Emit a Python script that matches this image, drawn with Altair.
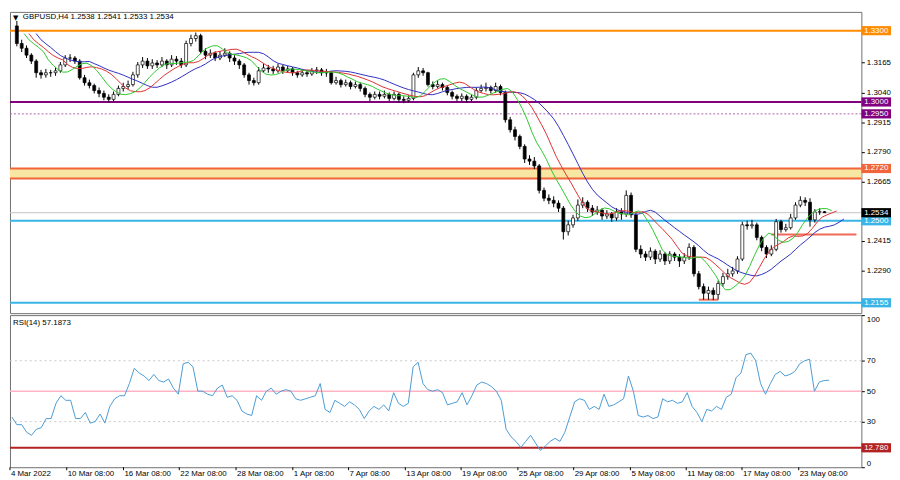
import altair as alt
import pandas as pd

# ---------------- data ----------------
symbol_title = "GBPUSD,H4"
first_open = 1.3320
closes = [
1.3246, 1.3226, 1.3197, 1.3172, 1.3123, 1.3114, 1.3123, 1.3123, 1.3131, 1.3156,
1.3185, 1.3185, 1.3172, 1.3102, 1.3081, 1.3069, 1.3048, 1.3036, 1.3020, 1.3011,
1.3032, 1.3057, 1.3065, 1.3073, 1.3114, 1.3156, 1.3172, 1.3152, 1.3164, 1.3156,
1.3172, 1.3156, 1.3180, 1.3172, 1.3156, 1.3246, 1.3267, 1.3279, 1.3213, 1.3197,
1.3205, 1.3185, 1.3197, 1.3205, 1.3185, 1.3172, 1.3156, 1.3114, 1.3090, 1.3081,
1.3131, 1.3143, 1.3139, 1.3131, 1.3147, 1.3131, 1.3139, 1.3123, 1.3114, 1.3123,
1.3118, 1.3131, 1.3135, 1.3123, 1.3123, 1.3081, 1.3090, 1.3073, 1.3081, 1.3065,
1.3073, 1.3057, 1.3032, 1.3020, 1.3032, 1.3024, 1.3032, 1.3015, 1.3032, 1.3011,
1.3007, 1.3015, 1.3114, 1.3131, 1.3123, 1.3073, 1.3065, 1.3073, 1.3061, 1.3040,
1.3024, 1.3015, 1.3024, 1.3011, 1.3020, 1.3048, 1.3057, 1.3061, 1.3048, 1.3065,
1.3040, 1.2925, 1.2883, 1.2855, 1.2813, 1.2760, 1.2751, 1.2731, 1.2628, 1.2595,
1.2586, 1.2574, 1.2553, 1.2454, 1.2483, 1.2512, 1.2566, 1.2578, 1.2553, 1.2537,
1.2545, 1.2520, 1.2529, 1.2512, 1.2537, 1.2529, 1.2607, 1.2525, 1.2380, 1.2360,
1.2347, 1.2372, 1.2339, 1.2360, 1.2331, 1.2360, 1.2347, 1.2331, 1.2347, 1.2388,
1.2277, 1.2223, 1.2195, 1.2207, 1.2190, 1.2236, 1.2265, 1.2277, 1.2289, 1.2339,
1.2483, 1.2479, 1.2483, 1.2430, 1.2388, 1.2360, 1.2380, 1.2496, 1.2463, 1.2471,
1.2512, 1.2566, 1.2586, 1.2578, 1.2504, 1.2537, 1.2538, 1.2534]
highs = [
1.3341, 1.3262, 1.3238, 1.3205, 1.3180, 1.3135, 1.3139, 1.3135, 1.3147, 1.3168,
1.3197, 1.3201, 1.3193, 1.3180, 1.3114, 1.3094, 1.3077, 1.3061, 1.3048, 1.3032,
1.3044, 1.3069, 1.3081, 1.3090, 1.3127, 1.3168, 1.3189, 1.3185, 1.3180, 1.3176,
1.3189, 1.3180, 1.3197, 1.3193, 1.3185, 1.3258, 1.3283, 1.3292, 1.3287, 1.3226,
1.3221, 1.3213, 1.3213, 1.3226, 1.3213, 1.3197, 1.3180, 1.3164, 1.3123, 1.3102,
1.3147, 1.3160, 1.3156, 1.3152, 1.3160, 1.3156, 1.3152, 1.3147, 1.3131, 1.3139,
1.3135, 1.3143, 1.3147, 1.3143, 1.3139, 1.3131, 1.3106, 1.3098, 1.3094, 1.3090,
1.3086, 1.3081, 1.3065, 1.3040, 1.3044, 1.3044, 1.3048, 1.3040, 1.3044, 1.3040,
1.3024, 1.3028, 1.3123, 1.3147, 1.3143, 1.3127, 1.3086, 1.3090, 1.3081, 1.3069,
1.3048, 1.3032, 1.3036, 1.3032, 1.3032, 1.3061, 1.3073, 1.3081, 1.3069, 1.3081,
1.3073, 1.3048, 1.2937, 1.2896, 1.2863, 1.2822, 1.2776, 1.2768, 1.2739, 1.2640,
1.2611, 1.2603, 1.2586, 1.2562, 1.2500, 1.2525, 1.2590, 1.2599, 1.2586, 1.2566,
1.2562, 1.2553, 1.2545, 1.2537, 1.2553, 1.2553, 1.2628, 1.2619, 1.2533, 1.2397,
1.2372, 1.2388, 1.2380, 1.2376, 1.2368, 1.2372, 1.2368, 1.2360, 1.2364, 1.2405,
1.2397, 1.2289, 1.2236, 1.2223, 1.2219, 1.2248, 1.2281, 1.2298, 1.2306, 1.2351,
1.2496, 1.2500, 1.2504, 1.2492, 1.2438, 1.2397, 1.2397, 1.2508, 1.2504, 1.2487,
1.2529, 1.2578, 1.2603, 1.2599, 1.2595, 1.2549, 1.2553, 1.2541]
lows = [
1.3234, 1.3210, 1.3185, 1.3160, 1.3102, 1.3098, 1.3102, 1.3106, 1.3110, 1.3123,
1.3147, 1.3168, 1.3160, 1.3094, 1.3069, 1.3057, 1.3036, 1.3020, 1.3007, 1.2999,
1.3003, 1.3024, 1.3044, 1.3053, 1.3065, 1.3102, 1.3143, 1.3139, 1.3139, 1.3143,
1.3147, 1.3139, 1.3147, 1.3156, 1.3143, 1.3147, 1.3234, 1.3254, 1.3201, 1.3180,
1.3185, 1.3172, 1.3176, 1.3189, 1.3168, 1.3156, 1.3139, 1.3102, 1.3073, 1.3069,
1.3073, 1.3123, 1.3123, 1.3118, 1.3123, 1.3118, 1.3123, 1.3110, 1.3102, 1.3106,
1.3106, 1.3110, 1.3118, 1.3110, 1.3106, 1.3073, 1.3073, 1.3061, 1.3065, 1.3053,
1.3057, 1.3044, 1.3020, 1.3003, 1.3011, 1.3011, 1.3015, 1.3003, 1.3007, 1.2999,
1.2995, 1.2999, 1.3007, 1.3102, 1.3110, 1.3065, 1.3053, 1.3057, 1.3048, 1.3028,
1.3011, 1.3003, 1.3003, 1.2999, 1.3003, 1.3011, 1.3040, 1.3044, 1.3036, 1.3040,
1.3028, 1.2913, 1.2871, 1.2838, 1.2801, 1.2743, 1.2735, 1.2718, 1.2615, 1.2582,
1.2570, 1.2557, 1.2537, 1.2421, 1.2438, 1.2471, 1.2500, 1.2553, 1.2537, 1.2520,
1.2525, 1.2504, 1.2508, 1.2496, 1.2500, 1.2504, 1.2516, 1.2512, 1.2368, 1.2343,
1.2331, 1.2335, 1.2318, 1.2327, 1.2314, 1.2318, 1.2331, 1.2306, 1.2318, 1.2335,
1.2265, 1.2211, 1.2168, 1.2168, 1.2166, 1.2168, 1.2223, 1.2252, 1.2265, 1.2277,
1.2331, 1.2463, 1.2467, 1.2418, 1.2372, 1.2343, 1.2351, 1.2372, 1.2450, 1.2454,
1.2463, 1.2504, 1.2557, 1.2562, 1.2475, 1.2492, 1.2525, 1.2533]
rsi = [
33, 28, 28, 23, 21, 25, 26, 32, 32, 42,
47, 44, 44, 32, 32, 36, 29, 30, 35, 29,
40, 45, 47, 47, 55, 65, 62, 60, 57, 61,
57, 56, 58, 52, 48, 68, 69, 66, 50, 50,
48, 47, 52, 54, 46, 47, 44, 37, 35, 34,
47, 44, 50, 52, 48, 50, 51, 50, 45, 44,
45, 46, 47, 55, 38, 36, 44, 42, 40, 43,
41, 38, 32, 37, 40, 38, 41, 37, 49, 42,
40, 42, 66, 69, 55, 51, 50, 51, 49, 41,
42, 43, 49, 41, 47, 54, 56, 55, 53, 50,
44, 25, 20, 17, 13, 17, 21, 16, 11, 14,
17, 19, 17, 23, 33, 43, 45, 44, 38, 40,
38, 48, 40, 41, 43, 45, 60, 50, 34, 33,
34, 32, 33, 45, 43, 44, 42, 43, 49, 40,
36, 30, 38, 37, 40, 38, 46, 48, 59, 62,
74, 75, 70, 55, 48, 55, 61, 63, 60, 61,
63, 68, 70, 71, 50, 56, 57, 57.1873]

# time axis labels (bar number where each label sits)
tick_bars = [-0.4, 11.2, 22.8, 34.2, 45.8, 57.4, 68.8, 80.4, 91.8, 103.4, 114.8, 126.4, 137.8, 149.2, 160.8]
tick_labels = ["4 Mar 2022", "10 Mar 08:00", "16 Mar 08:00", "22 Mar 08:00", "28 Mar 08:00",
               "1 Apr 08:00", "7 Apr 08:00", "13 Apr 08:00", "19 Apr 08:00", "25 Apr 08:00",
               "29 Apr 08:00", "5 May 08:00", "11 May 08:00", "17 May 08:00", "23 May 08:00"]

# horizontal levels
level_prices = [1.3300, 1.3000, 1.2720, 1.2678, 1.2500, 1.2155]
level_names = ["L1.3300", "L1.3000", "L1.2720", "L1.2678", "L1.2500", "L1.2155"]
level_colors = ["#FF8C00", "#800080", "#F0653A", "#F0653A", "#38B4E6", "#38B4E6"]
band_top, band_bottom = 1.2720, 1.2678
dotted_level = 1.2950
seg_prices = [1.2442, 1.2168]
seg_from = [156, 141]
seg_to = [173.6, 145]
tag_prices = [1.3300, 1.3000, 1.2950, 1.2720, 1.2500, 1.2534, 1.2155]
tag_names = ["T1.3300", "T1.3000", "T1.2950", "T1.2720", "T1.2500", "T1.2534", "T1.2155"]
tag_colors = ["#FF8C00", "#800080", "#800080", "#F0653A", "#38B4E6", "#000000", "#38B4E6"]
rsi_levels_dotted = [70, 30]
rsi_mid = 50
rsi_low_level = 12.78

# ---------------- chart ----------------
n = len(closes)
opens = [first_open] + closes[:-1]
df = pd.DataFrame({"i": list(range(n)), "open": opens, "high": highs, "low": lows,
                   "close": closes, "rsi": rsi})

W, HP, HR = 862, 305, 154
FONT = "Liberation Sans"
xscale = alt.Scale(domain=[-0.4, 173.6], nice=False, zero=False)
pscale = alt.Scale(domain=[1.21113, 1.33790], nice=False, zero=False)
rscale = alt.Scale(domain=[0, 100], nice=False, zero=False)

axis_common = dict(orient="right", title=None, grid=False, domain=False, tickSize=3,
                   tickColor="#000000", labelFont=FONT, labelFontSize=8,
                   labelColor="#000000", labelPadding=2)
price_axis = alt.Axis(values=[1.3165, 1.3040, 1.2915, 1.2790, 1.2665, 1.2415, 1.2290],
                      format=".4f", **axis_common)
rsi_axis = alt.Axis(values=[100, 70, 50, 30, 0], format="d", labelFlush=True, **axis_common)


def X(f):
    return alt.X(f, type="quantitative", scale=xscale, axis=None, title=None)


def YP(f):
    return alt.Y(f, type="quantitative", scale=pscale, axis=price_axis, title=None)


def YR(f):
    return alt.Y(f, type="quantitative", scale=rscale, axis=rsi_axis, title=None)


box_path = "M-1,-0.31L1,-0.31L1,0.31L-1,0.31Z"

band = alt.Chart(pd.DataFrame({"top": [band_top], "bot": [band_bottom]})).mark_rect(
    color="#F8E7A2").encode(x=alt.value(0), x2=alt.value(W), y=YP("top"), y2=alt.Y2("bot"))

lv = alt.Chart(pd.DataFrame({"lvl": level_prices, "name": level_names})).mark_rule(
    strokeWidth=2).encode(
    x=alt.value(0), x2=alt.value(W), y=YP("lvl"),
    stroke=alt.Stroke("name:N", scale=alt.Scale(domain=level_names, range=level_colors),
                      legend=None))

dotted = alt.Chart(pd.DataFrame({"lvl": [dotted_level]})).mark_rule(
    strokeDash=[2, 2], color="#B060B0", strokeWidth=1).encode(
    x=alt.value(0), x2=alt.value(W), y=YP("lvl"))

cur = alt.Chart(pd.DataFrame({"lvl": [closes[-1]]})).mark_rule(
    color="#C4C4C4", strokeWidth=1).encode(x=alt.value(0), x2=alt.value(W), y=YP("lvl"))

segs = alt.Chart(pd.DataFrame({"y": seg_prices, "a": seg_from, "b": seg_to})).mark_rule(
    color="#F06A5A", strokeWidth=2).encode(x=X("a"), x2=alt.X2("b"), y=YP("y"))

wicks = alt.Chart(df).mark_rule(color="#000000", strokeWidth=1).encode(
    x=X("i"), y=YP("low"), y2=alt.Y2("high"))

bodies = alt.Chart(df).mark_bar(width=3, stroke="#000000", strokeWidth=0.7).encode(
    x=X("i"), y=YP("open"), y2=alt.Y2("close"),
    fill=alt.condition("datum.close >= datum.open", alt.value("#ffffff"), alt.value("#000000")))


def alligator(win, shift, color):
    return alt.Chart(df).transform_calculate(
        med="(datum.high + datum.low) / 2"
    ).transform_window(
        ma="mean(med)", frame=[-(win - 1), 0], sort=[alt.SortField("i")]
    ).transform_calculate(
        xs=f"datum.i + {shift}"
    ).mark_line(color=color, strokeWidth=1).encode(x=X("xs"), y=YP("ma"))


jaw = alligator(12, 4, "#2E2EC0")
teeth = alligator(8, 2.5, "#E03030")
lips = alligator(5, 1.5, "#2CC82C")

ohlc_text = "  ".join(f"{v:.4f}" for v in [opens[-1], highs[-1], lows[-1], closes[-1]])
title_df = pd.DataFrame({"t": [f"{symbol_title}  {ohlc_text}"]})
ptitle = alt.Chart(title_df).mark_text(align="left", baseline="top", font=FONT, fontSize=8,
                                      color="#000000").encode(
    x=alt.value(13), y=alt.value(1), text="t:N")
tri = alt.Chart(pd.DataFrame({"t": ["▼"]})).mark_text(align="left", baseline="top",
                                                    font="DejaVu Sans", fontSize=7,
                                                    color="#000000").encode(
    x=alt.value(3), y=alt.value(2), text="t:N")

tags_df = pd.DataFrame({"p": tag_prices, "name": tag_names,
                        "lbl": [f"{v:.4f}" for v in tag_prices]})
tag_box = alt.Chart(tags_df).mark_point(shape=box_path, size=900, filled=True, opacity=1,
                                        strokeWidth=0).encode(
    x=alt.value(W + 15), y=YP("p"),
    fill=alt.Fill("name:N", scale=alt.Scale(domain=tag_names, range=tag_colors), legend=None))
tag_txt = alt.Chart(tags_df).mark_text(align="center", baseline="middle", font=FONT, fontSize=8,
                                       color="#ffffff").encode(
    x=alt.value(W + 15), y=YP("p"), text="lbl:N")

price = alt.layer(band, lv, dotted, cur, segs, wicks, bodies, jaw, teeth, lips,
                  ptitle, tri, tag_box, tag_txt).properties(width=W, height=HP)

# RSI panel
r_dot = alt.Chart(pd.DataFrame({"lvl": rsi_levels_dotted})).mark_rule(
    strokeDash=[2, 3], color="#C8C8C8", strokeWidth=1).encode(
    x=alt.value(0), x2=alt.value(W), y=YR("lvl"))
r_mid = alt.Chart(pd.DataFrame({"lvl": [rsi_mid]})).mark_rule(
    color="#FFB3C4", strokeWidth=1.5).encode(x=alt.value(0), x2=alt.value(W), y=YR("lvl"))
r_low = alt.Chart(pd.DataFrame({"lvl": [rsi_low_level]})).mark_rule(
    color="#B22222", strokeWidth=2).encode(x=alt.value(0), x2=alt.value(W), y=YR("lvl"))
r_line = alt.Chart(df).mark_line(color="#4A9BD4", strokeWidth=1).encode(x=X("i"), y=YR("rsi"))
r_title = alt.Chart(pd.DataFrame({"t": [f"RSI(14) {rsi[-1]:.4f}"]})).mark_text(
    align="left", baseline="top", font=FONT, fontSize=8, color="#000000").encode(
    x=alt.value(3), y=alt.value(4), text="t:N")
rtag_df = pd.DataFrame({"p": [rsi_low_level], "lbl": [f"{rsi_low_level:.3f}"]})
r_tag_box = alt.Chart(rtag_df).mark_point(shape=box_path, size=900, filled=True, opacity=1,
                                          strokeWidth=0, color="#B22222").encode(
    x=alt.value(W + 15), y=YR("p"))
r_tag_txt = alt.Chart(rtag_df).mark_text(align="center", baseline="middle", font=FONT,
                                         fontSize=8, color="#ffffff").encode(
    x=alt.value(W + 15), y=YR("p"), text="lbl:N")

ticks_df = pd.DataFrame({"t": tick_bars, "lbl": tick_labels})
x_ticks = alt.Chart(ticks_df).mark_rule(color="#000000", strokeWidth=1).encode(
    x=X("t"), y=alt.value(HR), y2=alt.value(HR + 3))
x_lbls = alt.Chart(ticks_df).mark_text(align="left", baseline="top", dx=1, font=FONT,
                                       fontSize=8, color="#000000").encode(
    x=X("t"), y=alt.value(HR + 3), text="lbl:N")

rsi_chart = alt.layer(r_dot, r_mid, r_low, r_line, r_title, r_tag_box, r_tag_txt,
                      x_ticks, x_lbls).properties(width=W, height=HR)

chart = alt.vconcat(price, rsi_chart, spacing=0).properties(
    padding=0, background="#ffffff"
).configure_view(stroke="#707070", strokeWidth=1)

chart.save("out.html", embed_options={"renderer": "svg", "actions": False})
